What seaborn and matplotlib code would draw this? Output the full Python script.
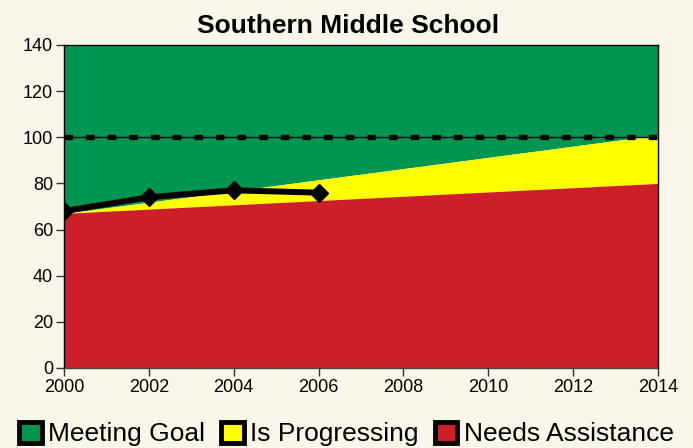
import matplotlib
matplotlib.use("Agg")
import matplotlib.pyplot as plt
import seaborn as sns
import pandas as pd
from matplotlib.patches import Patch

# Data
band_years = [2000, 2014]
needs_top = [67, 80]
progress_top = [67, 101]
goal_top = [140, 140]
goal_line = 100

years = [2000, 2002, 2004, 2006]
scores = [68, 74, 77, 76]

x_ticks = [2000, 2002, 2004, 2006, 2008, 2010, 2012, 2014]
y_ticks = [0, 20, 40, 60, 80, 100, 120, 140]
legend_labels = ["Meeting Goal", "Is Progressing", "Needs Assistance"]

bg = "#FAF6EA"
green = "#00964F"
yellow = "#FFFF00"
red = "#CC1F2A"

sns.set_theme(style="white")
plt.rcParams['font.family'] = ['Liberation Sans', 'DejaVu Sans']
plt.rcParams['text.color'] = 'black'

fig = plt.figure(figsize=(6.93, 4.48), dpi=100, facecolor=bg)
ax = fig.add_axes([0.0924, 0.1786, 0.857, 0.721])
ax.set_facecolor(bg)

ax.fill_between(band_years, progress_top, goal_top, color=green, lw=0, zorder=1)
ax.fill_between(band_years, needs_top, progress_top, color=yellow, lw=0, zorder=1)
ax.fill_between(band_years, 0, needs_top, color=red, lw=0, zorder=1)

ax.axhline(goal_line, color="black", lw=1, zorder=2)
ax.axhline(goal_line, color="black", lw=3.8, dashes=(1.6, 2.5), zorder=2)

df = pd.DataFrame({"year": years, "score": scores})
sns.lineplot(data=df, x="year", y="score", ax=ax, color="black", lw=4.3,
             marker="D", markersize=8.8, markeredgecolor="black", markeredgewidth=1,
             zorder=4)

ax.set_xlim(2000, 2014)
ax.set_ylim(0, 140)
ax.set_xticks(x_ticks)
ax.set_yticks(y_ticks)
ax.set_xlabel("")
ax.set_ylabel("")
ax.tick_params(axis="both", which="both", direction="out", length=6, width=1,
               color="#333333", labelsize=13, labelcolor="black",
               bottom=True, left=True, top=False, right=False, pad=2)
for s in ax.spines.values():
    s.set_color("black")
    s.set_linewidth(1)
    s.set_zorder(3)
ax.spines["bottom"].set_color("#444444")

ax.set_title("Southern Middle School", fontsize=19, fontweight="bold", pad=8.6,
             color="black", x=0.479)

handles = [Patch(facecolor=c, edgecolor="black", linewidth=3.5, joinstyle="round")
           for c in (green, yellow, red)]
fig.legend(handles, legend_labels, loc="center", bbox_to_anchor=(0.5, 0.031),
           ncol=3, frameon=False, fontsize=19, handlelength=0.85, handleheight=0.85,
           handletextpad=0.25, columnspacing=0.6, borderaxespad=0, borderpad=0)

fig.savefig("out.png", dpi=100, facecolor=bg)
